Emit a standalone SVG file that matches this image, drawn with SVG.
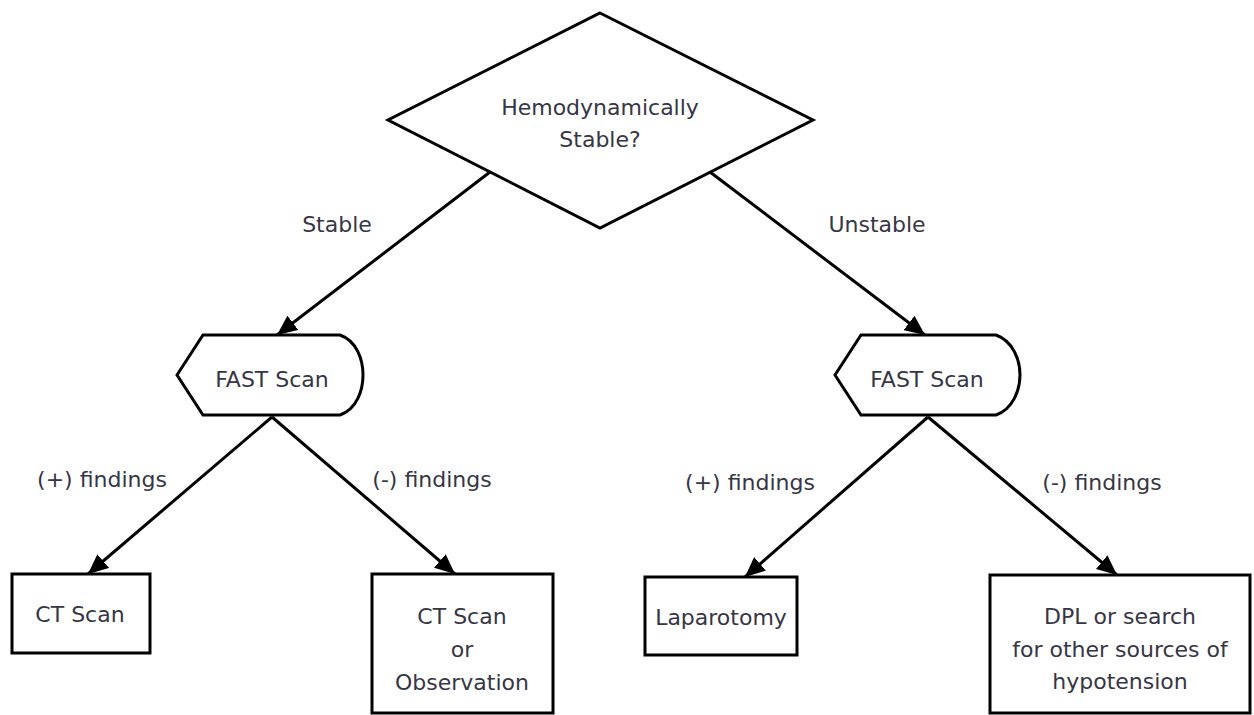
<svg xmlns="http://www.w3.org/2000/svg" width="1254" height="715" viewBox="0 0 1254 715">
<style>
.shape{fill:#fff;stroke:#000;stroke-width:3;stroke-linejoin:miter}
.t{font-family:"DejaVu Sans",Verdana,sans-serif;font-size:22px;fill:#363644;text-anchor:middle}
.c{stroke:#000;stroke-width:3;fill:none;marker-end:url(#ah)}
</style>
<defs>
<marker id="ah" markerUnits="userSpaceOnUse" markerWidth="22" markerHeight="18" refX="20" refY="9" orient="auto">
<path d="M0,0 L20,9 L0,18 Z" fill="#000"/>
</marker>
</defs>
<rect width="1254" height="715" fill="#fff"/>
<g id="connectors">
<line class="c" x1="490" y1="172" x2="277" y2="335"/>
<line class="c" x1="710" y1="172" x2="925" y2="335"/>
<line class="c" x1="272" y1="417" x2="88" y2="574"/>
<line class="c" x1="272" y1="417" x2="455" y2="574"/>
<line class="c" x1="928" y1="417" x2="745" y2="577"/>
<line class="c" x1="928" y1="417" x2="1117" y2="575"/>
</g>
<g id="labels">
<text class="t" x="337" y="232">Stable</text>
<text class="t" x="877" y="232">Unstable</text>
<text class="t" x="102" y="487">(+) findings</text>
<text class="t" x="432" y="487">(-) findings</text>
<text class="t" x="750" y="490">(+) findings</text>
<text class="t" x="1102" y="490">(-) findings</text>
</g>
<g id="decision">
<polygon class="shape" points="600,13 813,120 600,228 388,120"/>
<text class="t" x="600" y="115">Hemodynamically</text>
<text class="t" x="600" y="147">Stable?</text>
</g>
<g id="fast-left">
<path class="shape" d="M177,375 L203,335 L340,335 C357,341 363,360 363,375 C363,390 357,409 340,415 L203,415 Z"/>
<text class="t" x="272" y="387">FAST Scan</text>
</g>
<g id="fast-right">
<path class="shape" d="M835,375 L861,335 L996,335 C1013,341 1020,360 1020,375 C1020,390 1013,409 996,415 L861,415 Z"/>
<text class="t" x="927" y="387">FAST Scan</text>
</g>
<g id="ct-scan">
<rect class="shape" x="12" y="574" width="138" height="79"/>
<text class="t" x="80" y="622">CT Scan</text>
</g>
<g id="ct-or-obs">
<rect class="shape" x="372" y="574" width="181" height="139"/>
<text class="t" x="462" y="624">CT Scan</text>
<text class="t" x="462" y="657">or</text>
<text class="t" x="462" y="690">Observation</text>
</g>
<g id="laparotomy">
<rect class="shape" x="645" y="577" width="152" height="78"/>
<text class="t" x="721" y="625">Laparotomy</text>
</g>
<g id="dpl">
<rect class="shape" x="990" y="575" width="260" height="138"/>
<text class="t" x="1120" y="624">DPL or search</text>
<text class="t" x="1120" y="657">for other sources of</text>
<text class="t" x="1120" y="689">hypotension</text>
</g>
</svg>
